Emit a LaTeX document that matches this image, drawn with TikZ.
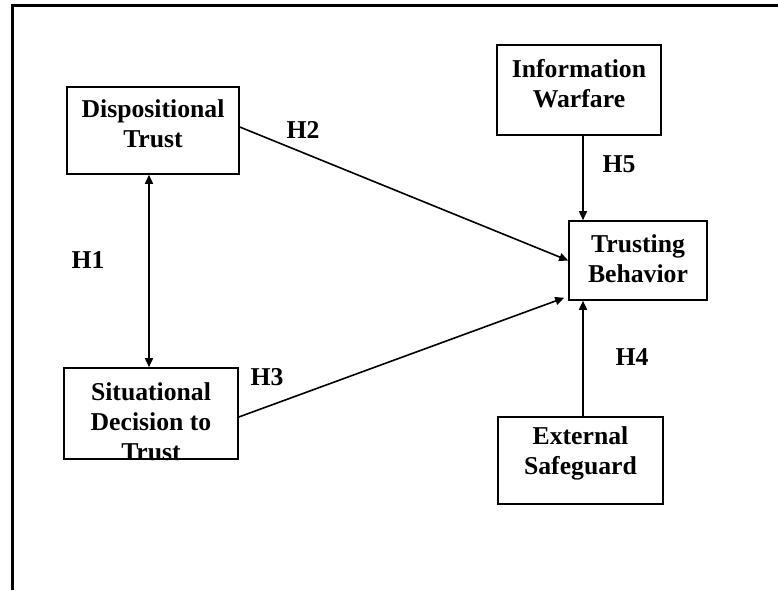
\documentclass[tikz,border=0pt]{standalone}
\usepackage{fontspec}
\setmainfont{Liberation Serif}
\usetikzlibrary{arrows.meta,calc}
\begin{document}
\begin{tikzpicture}[x=1pt,y=-1pt,
  box/.style={draw,line width=1.6pt,rectangle,inner sep=0pt,minimum width=#1},
  txt/.style={font=\fontsize{25.7}{30}\selectfont\bfseries,align=center,inner sep=0pt},
  lbl/.style={font=\fontsize{25.7}{30}\selectfont\bfseries,inner sep=0pt},
  arr/.style={line width=1.6pt,-{Triangle[length=9pt,width=8pt]}},
  darr/.style={line width=1.6pt,{Triangle[length=9pt,width=8pt]}-{Triangle[length=9pt,width=8pt]}}]
\useasboundingbox (0,0) rectangle (778,590);
% frame (top and left only)
\coordinate (fb) at (12,590);
\coordinate (fc) at (12,5);
\coordinate (fr) at (778,5);
\draw[line width=3pt] (fb) -- (fc) -- (fr);
% boxes
\node[box=172pt,minimum height=87pt] (disp) at (153,130.5) {};
\node[box=174pt,minimum height=91pt] (sit) at (151,413.5) {};
\node[box=164pt,minimum height=90pt] (info) at (579,90) {};
\node[box=138pt,minimum height=79pt] (trust) at (638,260.5) {};
\node[box=165pt,minimum height=87pt] (ext) at (580.5,460.5) {};
% box texts
\node[txt] (dispT) at (153,124) {Dispositional\\Trust};
\node[txt] (sitT) at (151,422) {Situational\\Decision to\\Trust};
\node[txt] (infoT) at (579,84) {Information\\Warfare};
\node[txt] (trustT) at (638,259) {Trusting\\Behavior};
\node[txt] (extT) at (580.5,453) {External\\Safeguard};
% connectors
\draw[darr] (disp.south -| 149,0) -- (sit.north -| 149,0);
\draw[arr] ([yshift=3.5pt]disp.east) -- (trust.west);
\draw[arr] ([yshift=-3.5pt]sit.east) -- ([xshift=-4pt,yshift=3pt]trust.south west);
\draw[arr] ([xshift=4pt]info.south) -- ([xshift=4pt]info.south |- trust.north);
\draw[arr] ([xshift=2.5pt]ext.north) -- ([xshift=2.5pt]ext.north |- trust.south);
% labels
\node[lbl] (h1) at (88,260) {H1};
\node[lbl] (h2) at (303,130) {H2};
\node[lbl] (h3) at (267,377) {H3};
\node[lbl] (h4) at (632,357) {H4};
\node[lbl] (h5) at (619,164) {H5};
\end{tikzpicture}
\end{document}
